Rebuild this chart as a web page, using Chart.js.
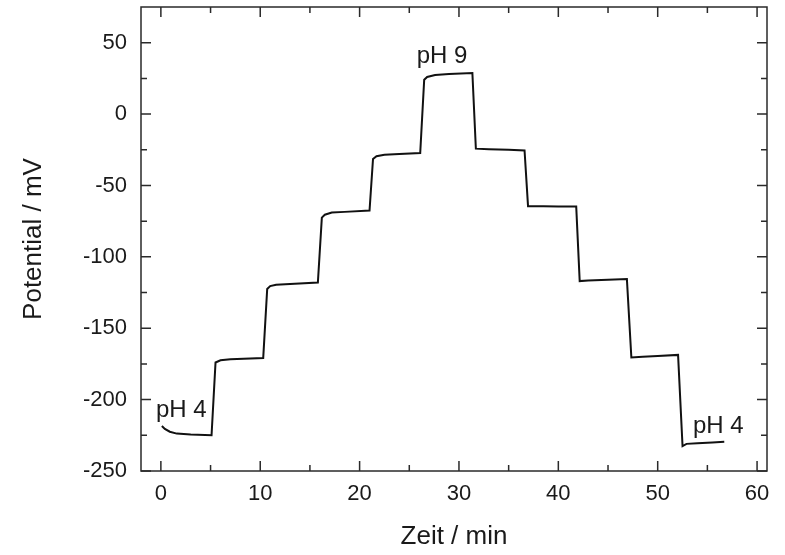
<!DOCTYPE html>
<html>
<head>
<meta charset="utf-8">
<script src="https://cdn.jsdelivr.net/npm/chart.js@4.4.1/dist/chart.umd.min.js"></script>
<style>
  html, body { margin: 0; padding: 0; background: #ffffff; }
  #wrap { width: 785px; height: 555px; }
</style>
</head>
<body>
<div id="wrap"><canvas id="c" width="785" height="555"></canvas></div>
<script>
// ---- Data ----
const timeMin = [
  0.1, 0.4, 0.9, 1.6, 3.0, 5.1,
  5.5, 6.0, 7.0, 10.3,
  10.7, 11.0, 11.6, 13.0, 15.8,
  16.2, 16.5, 17.2, 18.5, 21.0,
  21.35, 21.7, 22.5, 24.0, 26.1,
  26.5, 26.8, 27.6, 29.0, 31.35,
  31.7, 33.0, 35.0, 36.6,
  36.95, 38.5, 40.0, 41.8,
  42.15, 43.0, 45.0, 46.9,
  47.35, 48.5, 50.0, 52.05,
  52.5, 52.9, 54.0, 55.5, 56.7
];
const potentialMV = [
  -218.5, -220.5, -222.5, -223.8, -224.5, -225.0,
  -174.0, -172.5, -171.8, -170.8,
  -122.5, -120.5, -119.5, -119.0, -118.0,
  -72.5, -70.5, -69.0, -68.5, -67.5,
  -31.5, -29.5, -28.5, -28.0, -27.3,
  24.0, 26.0, 27.3, 28.0, 28.8,
  -24.2, -24.6, -25.0, -25.5,
  -64.5, -64.5, -64.8, -64.8,
  -117.0, -116.5, -116.0, -115.6,
  -170.5, -170.0, -169.5, -168.7,
  -232.5, -231.0, -230.5, -230.0, -229.5
];
const xTickValues = [0, 10, 20, 30, 40, 50, 60];
const xMinorTicks = [5, 15, 25, 35, 45, 55];
const yTickValues = [-250, -200, -150, -100, -50, 0, 50];
const yMinorTicks = [-225, -175, -125, -75, -25, 25];
const xRange = [-2, 61];
const yRange = [-250, 75];
const xTitle = 'Zeit / min';
const yTitle = 'Potential / mV';
const noteTexts = ['pH 4', 'pH 9', 'pH 4'];
const noteTimes = [2.05, 28.3, 56.1];
const notePotentials = [-212.1, 35.8, -223.6];

// ---- Chart ----
const FONT = '"Liberation Sans", Arial, sans-serif';
const INK = '#1a1a1a';

const framePlugin = {
  id: 'frameTicks',
  afterDraw(chart) {
    const ctx = chart.ctx;
    const xs = chart.scales.x, ys = chart.scales.y;
    const a = chart.chartArea;
    ctx.save();
    ctx.strokeStyle = '#2a2a2a';
    ctx.lineWidth = 1.5;
    ctx.strokeRect(a.left, a.top, a.right - a.left, a.bottom - a.top);
    const major = 10, minor = 6;
    ctx.beginPath();
    const xt = (v, len) => {
      const px = xs.getPixelForValue(v);
      ctx.moveTo(px, a.bottom); ctx.lineTo(px, a.bottom - len);
      ctx.moveTo(px, a.top); ctx.lineTo(px, a.top + len);
    };
    const yt = (v, len) => {
      const py = ys.getPixelForValue(v);
      ctx.moveTo(a.left, py); ctx.lineTo(a.left + len, py);
      ctx.moveTo(a.right, py); ctx.lineTo(a.right - len, py);
    };
    xTickValues.forEach(v => xt(v, major));
    xMinorTicks.forEach(v => xt(v, minor));
    yTickValues.forEach(v => yt(v, major));
    yMinorTicks.forEach(v => yt(v, minor));
    ctx.stroke();

    ctx.fillStyle = INK;
    ctx.font = '24px ' + FONT;
    ctx.textAlign = 'center';
    ctx.textBaseline = 'alphabetic';
    noteTexts.forEach((t, i) => {
      ctx.fillText(t, xs.getPixelForValue(noteTimes[i]), ys.getPixelForValue(notePotentials[i]));
    });
    ctx.restore();
  }
};

new Chart(document.getElementById('c'), {
  type: 'scatter',
  data: {
    datasets: [{
      data: timeMin.map((t, i) => ({ x: t, y: potentialMV[i] })),
      showLine: true,
      borderColor: '#111111',
      borderWidth: 2,
      pointRadius: 0,
      tension: 0,
      fill: false
    }]
  },
  options: {
    responsive: false,
    animation: false,
    events: [],
    layout: { padding: { top: 7, right: 18, left: 0, bottom: 0 } },
    plugins: { legend: { display: false }, tooltip: { enabled: false } },
    scales: {
      x: {
        type: 'linear',
        min: xRange[0], max: xRange[1],
        afterBuildTicks: s => { s.ticks = xTickValues.map(v => ({ value: v })); },
        afterFit: s => { s.height = 84; s.paddingLeft = 0; s.paddingRight = 0; },
        grid: { display: false, drawTicks: false },
        border: { display: false },
        ticks: { color: INK, font: { family: FONT, size: 22 }, padding: 10, maxRotation: 0 },
        title: { display: true, text: xTitle, color: INK, font: { family: FONT, size: 26 }, padding: { top: 0, bottom: 3 } }
      },
      y: {
        type: 'linear',
        min: yRange[0], max: yRange[1],
        afterBuildTicks: s => { s.ticks = yTickValues.map(v => ({ value: v })); },
        afterFit: s => { s.width = 141; s.paddingTop = 0; s.paddingBottom = 0; },
        grid: { display: false, drawTicks: false },
        border: { display: false },
        ticks: { color: INK, font: { family: FONT, size: 22 }, padding: 14 },
        title: { display: true, text: yTitle, color: INK, font: { family: FONT, size: 26 }, padding: { top: 18, bottom: 0 } }
      }
    }
  },
  plugins: [framePlugin]
});
</script>
</body>
</html>
